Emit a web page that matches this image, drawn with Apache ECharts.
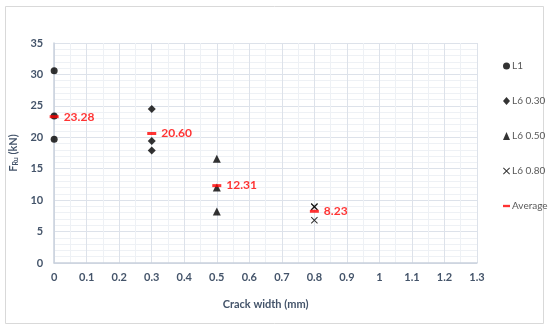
<!DOCTYPE html>
<html>
<head>
<meta charset="utf-8">
<script src="https://cdn.jsdelivr.net/npm/echarts@6/dist/echarts.min.js"></script>
<style>html,body{margin:0;padding:0;background:#fff}#c{width:550px;height:330px}</style>
</head>
<body>
<div id="c"></div>
<script>
const l1X = [0, 0, 0];
const l1Y = [30.6, 23.4, 19.7];
const l630X = [0.3, 0.3, 0.3];
const l630Y = [24.5, 19.4, 17.9];
const l650X = [0.5, 0.5, 0.5];
const l650Y = [16.6, 12.0, 8.2];
const l680X = [0.8, 0.8, 0.8];
const l680Y = [9.0, 8.9, 6.8];
const avgX = [0, 0.3, 0.5, 0.8];
const avgY = [23.28, 20.60, 12.31, 8.23];
const avgLabels = ['23.28', '20.60', '12.31', '8.23'];
const seriesNames = ['L1', 'L6 0.30', 'L6 0.50', 'L6 0.80', 'Average'];

const pairs = (xs, ys) => xs.map((x, i) => [x, ys[i]]);
const FONT = 'Lato, "Open Sans", sans-serif';
const TXT = '#44546A';
const crossPath = 'path://M0,1L1,0L5,4L9,0L10,1L6,5L10,9L9,10L5,6L1,10L0,9L4,5Z';

const chart = echarts.init(document.getElementById('c'), null, {renderer: 'canvas'});
chart.setOption({
  animation: false,
  backgroundColor: '#fff',
  textStyle: {fontFamily: FONT},
  graphic: [{
    type: 'rect', left: 5, top: 6, z: -10,
    shape: {width: 538, height: 317},
    style: {fill: '#fff', stroke: '#d9d9d9', lineWidth: 1}
  }],
  grid: {left: 48, right: 73, top: 43, bottom: 67},
  legend: {
    orient: 'vertical', left: 498, top: 56, itemGap: 25,
    itemWidth: 7, itemHeight: 8,
    textStyle: {color: '#595959', fontSize: 10, fontFamily: FONT, padding: [0, 0, 0, -3]},
    data: [
      {name: seriesNames[0]}, {name: seriesNames[1]}, {name: seriesNames[2]},
      {name: seriesNames[3]},
      {name: seriesNames[4], icon: 'path://M0,0H9V3H0Z'}
    ]
  },
  xAxis: {
    type: 'value', min: 0, max: 1.3, interval: 0.1,
    name: 'Crack width (mm)', nameLocation: 'middle', nameGap: 36,
    nameTextStyle: {color: TXT, fontSize: 11, fontWeight: 'bold', fontFamily: FONT},
    axisLine: {show: true, lineStyle: {color: '#c9d1dd', width: 1.5}},
    axisTick: {show: false},
    axisLabel: {color: TXT, fontSize: 11, fontWeight: 'bold', margin: 9,
      formatter: v => String(Math.round(v * 10) / 10)},
    splitLine: {show: true, lineStyle: {color: '#dde2ea', width: 1}},
    minorTick: {show: false, splitNumber: 2},
    minorSplitLine: {show: true, lineStyle: {color: '#eef1f5', width: 1}}
  },
  yAxis: {
    type: 'value', min: 0, max: 35, interval: 5,
    name: '{a|F}{b|Ru}{a| (kN)}', nameLocation: 'middle', nameGap: 20,
    nameTextStyle: {
      rich: {
        a: {color: TXT, fontSize: 11, fontWeight: 'bold', fontFamily: FONT},
        b: {color: TXT, fontSize: 7, fontWeight: 'bold', fontFamily: FONT, padding: [5, 0, 0, 0]}
      }
    },
    axisLine: {show: true, lineStyle: {color: '#c9d1dd', width: 1.5}},
    axisTick: {show: false},
    axisLabel: {color: TXT, fontSize: 11, fontWeight: 'bold', margin: 11},
    splitLine: {show: true, lineStyle: {color: '#dde2ea', width: 1}},
    minorTick: {show: false, splitNumber: 5},
    minorSplitLine: {show: true, lineStyle: {color: '#eef1f5', width: 1}}
  },
  series: [
    {name: seriesNames[0], type: 'scatter', symbol: 'circle', symbolSize: 7,
     itemStyle: {color: '#000'}, data: pairs(l1X, l1Y)},
    {name: seriesNames[1], type: 'scatter', symbol: 'diamond', symbolSize: 8,
     itemStyle: {color: '#000'}, data: pairs(l630X, l630Y)},
    {name: seriesNames[2], type: 'scatter', symbol: 'triangle', symbolSize: 8,
     itemStyle: {color: '#000'}, data: pairs(l650X, l650Y)},
    {name: seriesNames[3], type: 'scatter', symbol: crossPath, symbolSize: 7,
     itemStyle: {color: '#000'}, data: pairs(l680X, l680Y)},
    {name: seriesNames[4], type: 'scatter', symbol: 'rect', symbolSize: [9, 3], z: 5,
     itemStyle: {color: '#ff0000'},
     label: {show: true, position: 'right', distance: 5, color: '#ff0000',
       fontWeight: 'bold', fontSize: 12, fontFamily: FONT,
       formatter: p => avgLabels[p.dataIndex]},
     data: pairs(avgX, avgY)}
  ]
});
</script>
</body>
</html>
